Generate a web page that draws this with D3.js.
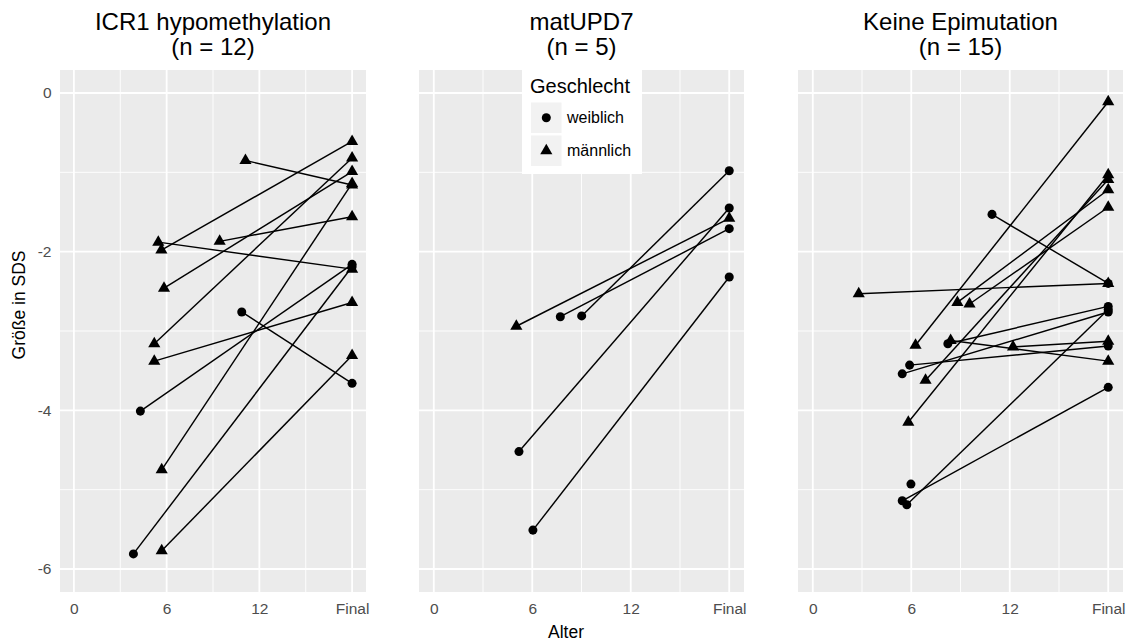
<!DOCTYPE html>
<html>
<head>
<meta charset="utf-8">
<script src="https://cdn.jsdelivr.net/npm/d3@7"></script>
<style>
  body { margin: 0; background: #ffffff; }
  text { font-family: "Liberation Sans", Arial, sans-serif; }
</style>
</head>
<body>
<div id="chart"></div>
<script>
// Facet titles and axes
const panelTitles = [
  ["ICR1 hypomethylation", "(n = 12)"],
  ["matUPD7", "(n = 5)"],
  ["Keine Epimutation", "(n = 15)"]
];
const xTickValues = [0, 6, 12, 18];
const xTickLabels = ["0", "6", "12", "Final"];
const xMinorValues = [3, 9, 15];
const yTickValues = [0, -2, -4, -6];
const yMinorValues = [-1, -3, -5];
const sexLabels = ["weiblich", "männlich"];   // w = circle, m = triangle

// ICR1 hypomethylation: age at first measurement, SDS then, SDS final, sex
const icrAge   = [11.1, 5.46, 5.66, 9.43, 5.83, 5.2, 5.2, 5.68, 5.68, 10.86, 4.3, 3.85];
const icrStart = [-0.85, -1.88, -1.98, -1.87, -2.46, -3.16, -3.38, -4.75, -5.77, -2.76, -4.01, -5.81];
const icrFinal = [-1.16, -2.22, -0.61, -1.56, -0.99, -0.82, -2.64, -1.14, -3.31, -3.66, -2.16, -2.19];
const icrSex   = ["m", "m", "m", "m", "m", "m", "m", "m", "m", "w", "w", "w"];

// matUPD7
const updAge   = [5.03, 7.71, 9.01, 5.19, 6.04];
const updStart = [-2.94, -2.82, -2.81, -4.52, -5.51];
const updFinal = [-1.58, -1.71, -0.98, -1.45, -2.32];
const updSex   = ["m", "w", "w", "w", "w"];

// Keine Epimutation (one girl without final height)
const keineAge   = [2.8, 10.92, 8.81, 9.55, 6.26, 8.4, 12.2, 6.87, 5.82, 8.23, 5.9, 5.45, 5.98, 5.45, 5.73];
const keineStart = [-2.53, -1.53, -2.64, -2.66, -3.18, -3.12, -3.2, -3.62, -4.15, -3.16, -3.43, -3.54, -4.93, -5.14, -5.19];
const keineFinal = [-2.40, -2.40, -1.22, -1.44, -0.11, -3.38, -3.13, -1.09, -1.03, -2.69, -3.19, -2.76, null, -3.71, -2.73];
const keineSex   = ["m", "w", "m", "m", "m", "m", "m", "m", "m", "w", "w", "w", "w", "w", "w"];

const FINAL_AGE = 18;

function buildRows(age, start, fin, sex) {
  return age.map((a, i) => ({ age: a, start: start[i], fin: fin[i], sex: sex[i] }));
}
const panelData = [
  buildRows(icrAge, icrStart, icrFinal, icrSex),
  buildRows(updAge, updStart, updFinal, updSex),
  buildRows(keineAge, keineStart, keineFinal, keineSex)
];

const W = 1131, H = 641;
const svg = d3.select("#chart").append("svg").attr("width", W).attr("height", H);

// panel boxes (first is narrower, it shares room with the y axis)
const panelX = [[60, 366], [419, 744], [798, 1123]];
const panelTop = 70, panelBottom = 592;

const y = d3.scaleLinear().domain([-6.29, 0.29]).range([panelBottom, panelTop]);

const circle = d3.symbol().type(d3.symbolCircle).size(64);
const triangle = d3.symbol().type(d3.symbolTriangle).size(64);
function shapeOf(sex) { return sex === "w" ? circle() : triangle(); }

panelData.forEach((rows, p) => {
  const x = d3.scaleLinear().domain([-0.9, 18.9]).range(panelX[p]);
  const g = svg.append("g");

  g.append("rect")
    .attr("x", panelX[p][0]).attr("y", panelTop)
    .attr("width", panelX[p][1] - panelX[p][0]).attr("height", panelBottom - panelTop)
    .attr("fill", "#ebebeb");

  // minor grid
  g.selectAll(".vmin").data(xMinorValues).join("line")
    .attr("x1", d => x(d)).attr("x2", d => x(d)).attr("y1", panelTop).attr("y2", panelBottom)
    .attr("stroke", "#fff").attr("stroke-width", 0.9);
  g.selectAll(".hmin").data(yMinorValues).join("line")
    .attr("x1", panelX[p][0]).attr("x2", panelX[p][1]).attr("y1", d => y(d)).attr("y2", d => y(d))
    .attr("stroke", "#fff").attr("stroke-width", 0.9);
  // major grid
  g.selectAll(".vmaj").data(xTickValues).join("line")
    .attr("x1", d => x(d)).attr("x2", d => x(d)).attr("y1", panelTop).attr("y2", panelBottom)
    .attr("stroke", "#fff").attr("stroke-width", 1.8);
  g.selectAll(".hmaj").data(yTickValues).join("line")
    .attr("x1", panelX[p][0]).attr("x2", panelX[p][1]).attr("y1", d => y(d)).attr("y2", d => y(d))
    .attr("stroke", "#fff").attr("stroke-width", 1.8);

  // x axis labels
  const xAxis = g.append("g").attr("transform", `translate(0,${panelBottom})`)
    .call(d3.axisBottom(x).tickValues(xTickValues).tickSize(0).tickPadding(11)
      .tickFormat((d, i) => xTickLabels[i]));
  xAxis.select(".domain").remove();
  xAxis.selectAll("text").attr("fill", "#4d4d4d").style("font-size", "15.5px")
    .style("font-family", '"Liberation Sans", Arial, sans-serif');

  if (p === 0) {
    const yAxis = g.append("g").attr("transform", `translate(${panelX[0][0]},0)`)
      .call(d3.axisLeft(y).tickValues(yTickValues).tickSize(0).tickPadding(8.5)
        .tickFormat(d => String(d)));
    yAxis.select(".domain").remove();
    yAxis.selectAll("text").attr("fill", "#4d4d4d").style("font-size", "15.5px")
      .style("font-family", '"Liberation Sans", Arial, sans-serif');
  }

  // facet title
  const cx = (panelX[p][0] + panelX[p][1]) / 2;
  g.selectAll(".title").data(panelTitles[p]).join("text")
    .attr("x", cx).attr("y", (d, i) => 30 + i * 25)
    .attr("text-anchor", "middle").attr("fill", "#000")
    .style("font-size", "24px").text(d => d);

  // connecting lines
  g.selectAll(".seg").data(rows.filter(r => r.fin !== null)).join("line")
    .attr("x1", d => x(d.age)).attr("y1", d => y(d.start))
    .attr("x2", x(FINAL_AGE)).attr("y2", d => y(d.fin))
    .attr("stroke", "#000").attr("stroke-width", 1.45);

  // points at first measurement and at final height
  g.selectAll(".p0").data(rows).join("path")
    .attr("transform", d => `translate(${x(d.age)},${y(d.start)})`)
    .attr("d", d => shapeOf(d.sex)).attr("fill", "#000");
  g.selectAll(".p1").data(rows.filter(r => r.fin !== null)).join("path")
    .attr("transform", d => `translate(${x(FINAL_AGE)},${y(d.fin)})`)
    .attr("d", d => shapeOf(d.sex)).attr("fill", "#000");
});

// legend inside the middle panel
const leg = svg.append("g");
leg.append("rect").attr("x", 522).attr("y", 70).attr("width", 120).attr("height", 104).attr("fill", "#fff");
leg.append("text").attr("x", 530).attr("y", 93).style("font-size", "20px").text("Geschlecht");
sexLabels.forEach((lab, i) => {
  const ky = 102.5 + i * 33;
  leg.append("rect").attr("x", 531).attr("y", ky).attr("width", 30.5).attr("height", 30.5).attr("fill", "#f2f2f2");
  leg.append("path").attr("transform", `translate(546.3,${ky + 15.2})`)
    .attr("d", i === 0 ? circle() : triangle()).attr("fill", "#000");
  leg.append("text").attr("x", 567).attr("y", ky + 20.5).style("font-size", "16px").text(lab);
});

// axis titles
svg.append("text").attr("x", 566).attr("y", 638).attr("text-anchor", "middle")
  .style("font-size", "17.5px").text("Alter");
svg.append("text").attr("transform", "translate(25,305) rotate(-90)").attr("text-anchor", "middle")
  .style("font-size", "17.5px").text("Größe in SDS");
</script>
</body>
</html>
